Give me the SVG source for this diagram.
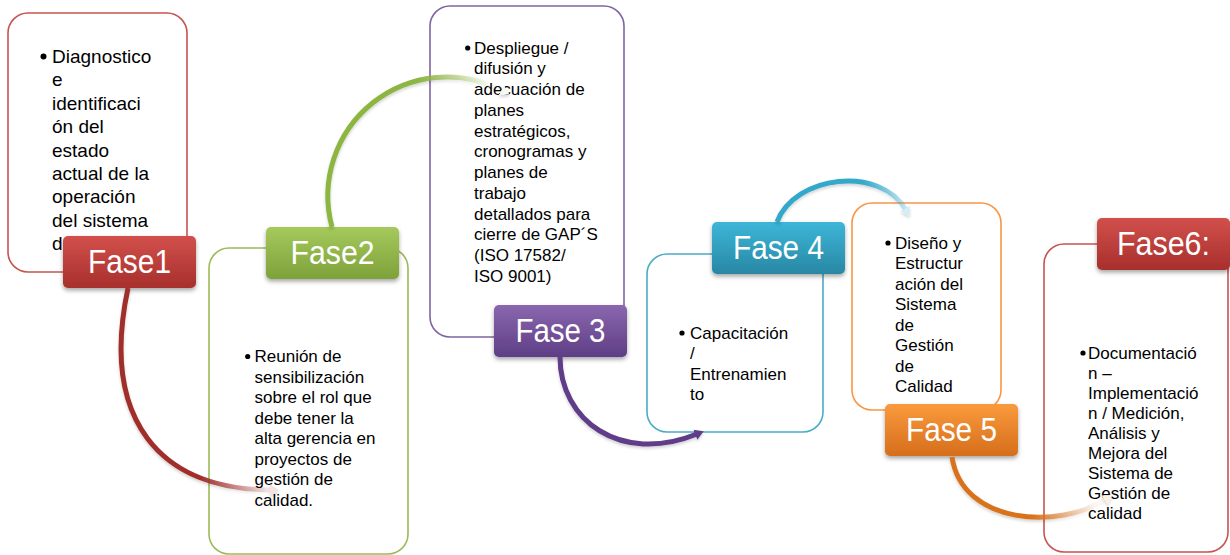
<svg xmlns="http://www.w3.org/2000/svg" width="1230" height="555" viewBox="0 0 1230 555">
<style>
.box{fill:#ffffff;stroke-width:1.6}
.body{font-family:"Liberation Sans",Arial,sans-serif;font-size:17px;fill:#000}
.big{font-size:19px}
.lbl{font-family:"Liberation Sans",Arial,sans-serif;font-size:34px;fill:#ffffff;text-anchor:middle}
.arc{fill:none;stroke-width:5;stroke-linecap:butt}
</style>
<defs>
<filter id="sh" x="-20%" y="-20%" width="140%" height="150%">
<feDropShadow dx="0" dy="2.5" stdDeviation="2" flood-color="#000" flood-opacity="0.35"/>
</filter>
<filter id="ash" x="-20%" y="-20%" width="140%" height="140%">
<feDropShadow dx="0" dy="2" stdDeviation="1.5" flood-color="#000" flood-opacity="0.18"/>
</filter>
<linearGradient id="gRed" x1="0" y1="0" x2="0" y2="1"><stop offset="0" stop-color="#D2504C"/><stop offset="1" stop-color="#A72F2C"/></linearGradient>
<linearGradient id="gGreen" x1="0" y1="0" x2="0" y2="1"><stop offset="0" stop-color="#A5C95C"/><stop offset="1" stop-color="#7EA23A"/></linearGradient>
<linearGradient id="gPurple" x1="0" y1="0" x2="0" y2="1"><stop offset="0" stop-color="#8A67AE"/><stop offset="1" stop-color="#5E3E86"/></linearGradient>
<linearGradient id="gTeal" x1="0" y1="0" x2="0" y2="1"><stop offset="0" stop-color="#3DB6D8"/><stop offset="1" stop-color="#2887A4"/></linearGradient>
<linearGradient id="gOrange" x1="0" y1="0" x2="0" y2="1"><stop offset="0" stop-color="#FA9A3C"/><stop offset="1" stop-color="#D66E1C"/></linearGradient>
<linearGradient id="sRed" gradientUnits="userSpaceOnUse" x1="200" y1="0" x2="272" y2="0"><stop offset="0" stop-color="#A02E2C"/><stop offset="1" stop-color="#A02E2C" stop-opacity="0.06"/></linearGradient>
<linearGradient id="sGreen" gradientUnits="userSpaceOnUse" x1="418" y1="0" x2="490" y2="0"><stop offset="0" stop-color="#8DB543"/><stop offset="1" stop-color="#8DB543" stop-opacity="0.04"/></linearGradient>
<linearGradient id="sTeal" gradientUnits="userSpaceOnUse" x1="862" y1="0" x2="912" y2="0"><stop offset="0" stop-color="#32A8CA"/><stop offset="1" stop-color="#32A8CA" stop-opacity="0.15"/></linearGradient>
<linearGradient id="sOrange" gradientUnits="userSpaceOnUse" x1="1032" y1="0" x2="1095" y2="0"><stop offset="0" stop-color="#D8731D"/><stop offset="1" stop-color="#D8731D" stop-opacity="0.05"/></linearGradient>
<marker id="mRed" markerUnits="userSpaceOnUse" viewBox="0 0 10 12" refX="2" refY="6" markerWidth="9" markerHeight="12" orient="auto"><path d="M0,0 L10,6 L0,12 z" fill="#F4E2E1"/></marker>
<marker id="mGreen" markerUnits="userSpaceOnUse" viewBox="0 0 10 12" refX="2" refY="6" markerWidth="9" markerHeight="12" orient="auto"><path d="M0,0 L10,6 L0,12 z" fill="#F6F9F0"/></marker>
<marker id="mPurple" markerUnits="userSpaceOnUse" viewBox="0 0 10 12" refX="2" refY="6" markerWidth="9" markerHeight="12" orient="auto"><path d="M0,0 L10,6 L0,12 z" fill="#5E3C88"/></marker>
<marker id="mTeal" markerUnits="userSpaceOnUse" viewBox="0 0 10 12" refX="2" refY="6" markerWidth="9" markerHeight="12" orient="auto"><path d="M0,0 L10,6 L0,12 z" fill="#D3EDF5"/></marker>
<marker id="mOrange" markerUnits="userSpaceOnUse" viewBox="0 0 10 12" refX="2" refY="6" markerWidth="9" markerHeight="12" orient="auto"><path d="M0,0 L10,6 L0,12 z" fill="#FCF1E7"/></marker>
</defs>

<g id="fase1">
<rect class="box" x="8" y="13" width="179" height="259" rx="20" stroke="#C65450"/>
<circle cx="43.5" cy="56.5" r="3"/>
<text class="body big" x="52"><tspan x="52" y="63">Diagnostico</tspan><tspan x="52" y="86.4">e</tspan><tspan x="52" y="109.8">identificaci</tspan><tspan x="52" y="133.2">ón del</tspan><tspan x="52" y="156.6">estado</tspan><tspan x="52" y="180">actual de la</tspan><tspan x="52" y="203.4">operación</tspan><tspan x="52" y="226.8">del sistema</tspan><tspan x="52" y="250.2">d</tspan></text>
<rect x="63" y="236" width="133" height="52" rx="5" fill="url(#gRed)" filter="url(#sh)"/>
<text class="lbl" x="129.5" y="273" textLength="83" lengthAdjust="spacingAndGlyphs">Fase1</text>
</g>

<g id="fase2">
<rect class="box" x="209" y="248" width="199" height="306" rx="20" stroke="#9BBB59"/>
<circle cx="247.7" cy="356.5" r="2.6"/>
<text class="body"><tspan x="254.5" y="362">Reunión de</tspan><tspan x="254.5" y="382.5">sensibilización</tspan><tspan x="254.5" y="403">sobre el rol que</tspan><tspan x="254.5" y="423.5">debe tener la</tspan><tspan x="254.5" y="444">alta gerencia en</tspan><tspan x="254.5" y="464.5">proyectos de</tspan><tspan x="254.5" y="485">gestión de</tspan><tspan x="254.5" y="505.5">calidad.</tspan></text>
<rect x="266" y="227" width="133" height="52" rx="5" fill="url(#gGreen)" filter="url(#sh)"/>
<text class="lbl" x="332.5" y="264" textLength="84" lengthAdjust="spacingAndGlyphs">Fase2</text>
</g>

<g id="fase3">
<rect class="box" x="430" y="6" width="194" height="331" rx="20" stroke="#8064A2"/>
<circle cx="467.7" cy="48" r="2.6"/>
<text class="body"><tspan x="474" y="53.5">Despliegue /</tspan><tspan x="474" y="74.25">difusión y</tspan><tspan x="474" y="95">adecuación de</tspan><tspan x="474" y="115.75">planes</tspan><tspan x="474" y="136.5">estratégicos,</tspan><tspan x="474" y="157.25">cronogramas y</tspan><tspan x="474" y="178">planes de</tspan><tspan x="474" y="198.75">trabajo</tspan><tspan x="474" y="219.5">detallados para</tspan><tspan x="474" y="240.25">cierre de GAP´S</tspan><tspan x="474" y="261">(ISO 17582/</tspan><tspan x="474" y="281.75">ISO 9001)</tspan></text>
<rect x="494" y="305" width="133" height="52" rx="5" fill="url(#gPurple)" filter="url(#sh)"/>
<text class="lbl" x="560.5" y="342" textLength="90" lengthAdjust="spacingAndGlyphs">Fase 3</text>
</g>

<g id="fase4">
<rect class="box" x="647" y="254" width="176" height="178" rx="20" stroke="#4BACC6"/>
<circle cx="682" cy="333" r="2.6"/>
<text class="body"><tspan x="690" y="338.5">Capacitación</tspan><tspan x="690" y="359">/</tspan><tspan x="690" y="379.5">Entrenamien</tspan><tspan x="690" y="400">to</tspan></text>
<rect x="712" y="222" width="133" height="52" rx="5" fill="url(#gTeal)" filter="url(#sh)"/>
<text class="lbl" x="778.5" y="259" textLength="91" lengthAdjust="spacingAndGlyphs">Fase 4</text>
</g>

<g id="fase5">
<rect class="box" x="852" y="203" width="149" height="207" rx="20" stroke="#F79646"/>
<circle cx="888" cy="243" r="2.6"/>
<text class="body"><tspan x="895" y="248.5">Diseño y</tspan><tspan x="895" y="269">Estructur</tspan><tspan x="895" y="289.5">ación del</tspan><tspan x="895" y="310">Sistema</tspan><tspan x="895" y="330.5">de</tspan><tspan x="895" y="351">Gestión</tspan><tspan x="895" y="371.5">de</tspan><tspan x="895" y="392">Calidad</tspan></text>
<rect x="885" y="404" width="133" height="52" rx="5" fill="url(#gOrange)" filter="url(#sh)"/>
<text class="lbl" x="951.5" y="441" textLength="91" lengthAdjust="spacingAndGlyphs">Fase 5</text>
</g>

<g id="fase6">
<rect class="box" x="1044" y="244" width="184" height="308" rx="20" stroke="#C65450"/>
<circle cx="1083" cy="353" r="2.6"/>
<text class="body"><tspan x="1088" y="358.5">Documentació</tspan><tspan x="1088" y="378.5">n –</tspan><tspan x="1088" y="398.5">Implementació</tspan><tspan x="1088" y="418.5">n / Medición,</tspan><tspan x="1088" y="438.5">Análisis y</tspan><tspan x="1088" y="458.5">Mejora del</tspan><tspan x="1088" y="478.5">Sistema de</tspan><tspan x="1088" y="498.5">Gestión de</tspan><tspan x="1088" y="518.5">calidad</tspan></text>
<rect x="1097" y="218" width="133" height="52" rx="5" fill="url(#gRed)" filter="url(#sh)"/>
<text class="lbl" x="1163.5" y="255" textLength="93" lengthAdjust="spacingAndGlyphs">Fase6:</text>
</g>

<g id="connectors" filter="url(#ash)">
<path class="arc" d="M128,288 C100,420 160,490 272,490" stroke="url(#sRed)" marker-end="url(#mRed)"/>
<path class="arc" d="M332,227 A119,119 0 0,1 503,91" stroke="url(#sGreen)" marker-end="url(#mGreen)"/>
<path class="arc" d="M560,357 C560,420 620,465 697,434" stroke="#5E3C88" marker-end="url(#mPurple)"/>
<path class="arc" d="M777,222 C795,175 880,165 906,210" stroke="url(#sTeal)" marker-end="url(#mTeal)"/>
<path class="arc" d="M952,457 C962,525 1060,530 1106,499" stroke="url(#sOrange)" marker-end="url(#mOrange)"/>
</g>
</svg>
